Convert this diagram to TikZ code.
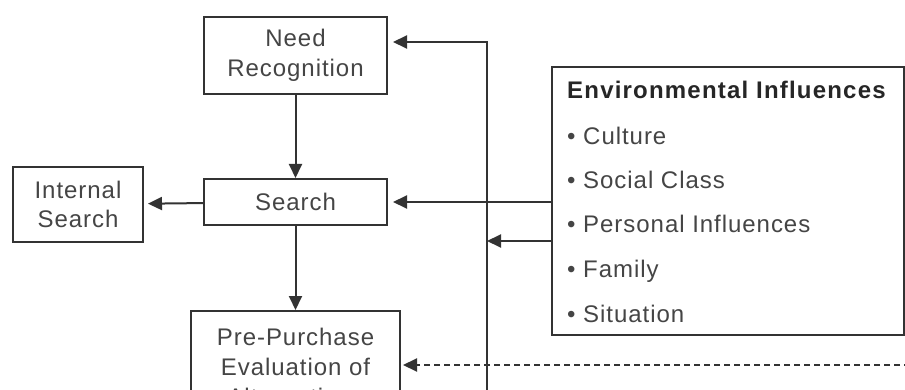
\documentclass[tikz,border=0pt]{standalone}
\usepackage{fontspec}
\setmainfont{Liberation Sans}[LetterSpace=4]
\newfontfamily\titlefont{Liberation Sans}[LetterSpace=5,BoldFont={Liberation Sans Bold}]
\usetikzlibrary{arrows.meta}
\definecolor{ink}{rgb}{0.2,0.2,0.2}
\definecolor{txt}{rgb}{0.27,0.27,0.27}
\tikzset{
  box/.style={draw=ink, line width=2pt, inner sep=0pt, align=center, text=txt,
    font=\fontsize{24}{29.5}\selectfont},
  conn/.style={draw=ink, line width=2pt, -{Triangle[length=14pt,width=13pt]}},
  envtxt/.style={anchor=base west, inner sep=0pt, text=txt, font=\fontsize{24}{28}\selectfont},
}
\begin{document}
\begin{tikzpicture}[x=1pt,y=-1pt]
\useasboundingbox (0,0) rectangle (905,390);
\clip (0,0) rectangle (905,390);
\fill[white] (0,0) rectangle (905,390);
% boxes
\node[box, minimum width=183pt, minimum height=77pt] (need) at (295.5,55.5) {Need\\Recognition};
\node[box, minimum width=183pt, minimum height=46pt] (search) at (295.5,202) {Search};
\node[box, minimum width=130pt, minimum height=75pt] (internal) at (78,204.5) {Internal\\Search};
\node[box, minimum width=209pt, minimum height=112pt, font=\fontsize{24}{30}\selectfont] (pre) at (295.5,367) {Pre-Purchase\\Evaluation of\\Alternatives};
\node[draw=ink, line width=2pt, minimum width=352pt, minimum height=268pt, inner sep=0pt] (env) at (728,201) {};
% environmental text
\node[envtxt, font=\fontsize{24}{28}\titlefont\bfseries, text=black!85] (t0) at (567,99) {Environmental Influences};
\node[envtxt] (t1) at (567,145) {\textbullet\ Culture};
\node[envtxt] (t2) at (567,189) {\textbullet\ Social Class};
\node[envtxt] (t3) at (567,233) {\textbullet\ Personal Influences};
\node[envtxt] (t4) at (567,277) {\textbullet\ Family};
\node[envtxt] (t5) at (567,322) {\textbullet\ Situation};
% coordinates
\coordinate (vb) at (487,400);
\coordinate (vt) at (487,42);
\coordinate (ea) at (552,241);
\coordinate (dr) at (910,365);
% connectors
\draw[conn] (need) -- (search);
\draw[conn] (search) -- (pre);
\draw[conn, shorten >=4pt] (search) -- (internal);
\draw[conn, shorten >=5pt] (search.east -| env.west) -- (search.east);
\draw[conn, shorten >=5pt] (vb) -- (vt) -- (need.east |- vt);
\draw[conn] (ea) -- (ea -| vb);
\draw[conn, dash pattern=on 6pt off 4pt, shorten >=2pt] (dr) -- (dr -| pre.east);
\end{tikzpicture}
\end{document}
